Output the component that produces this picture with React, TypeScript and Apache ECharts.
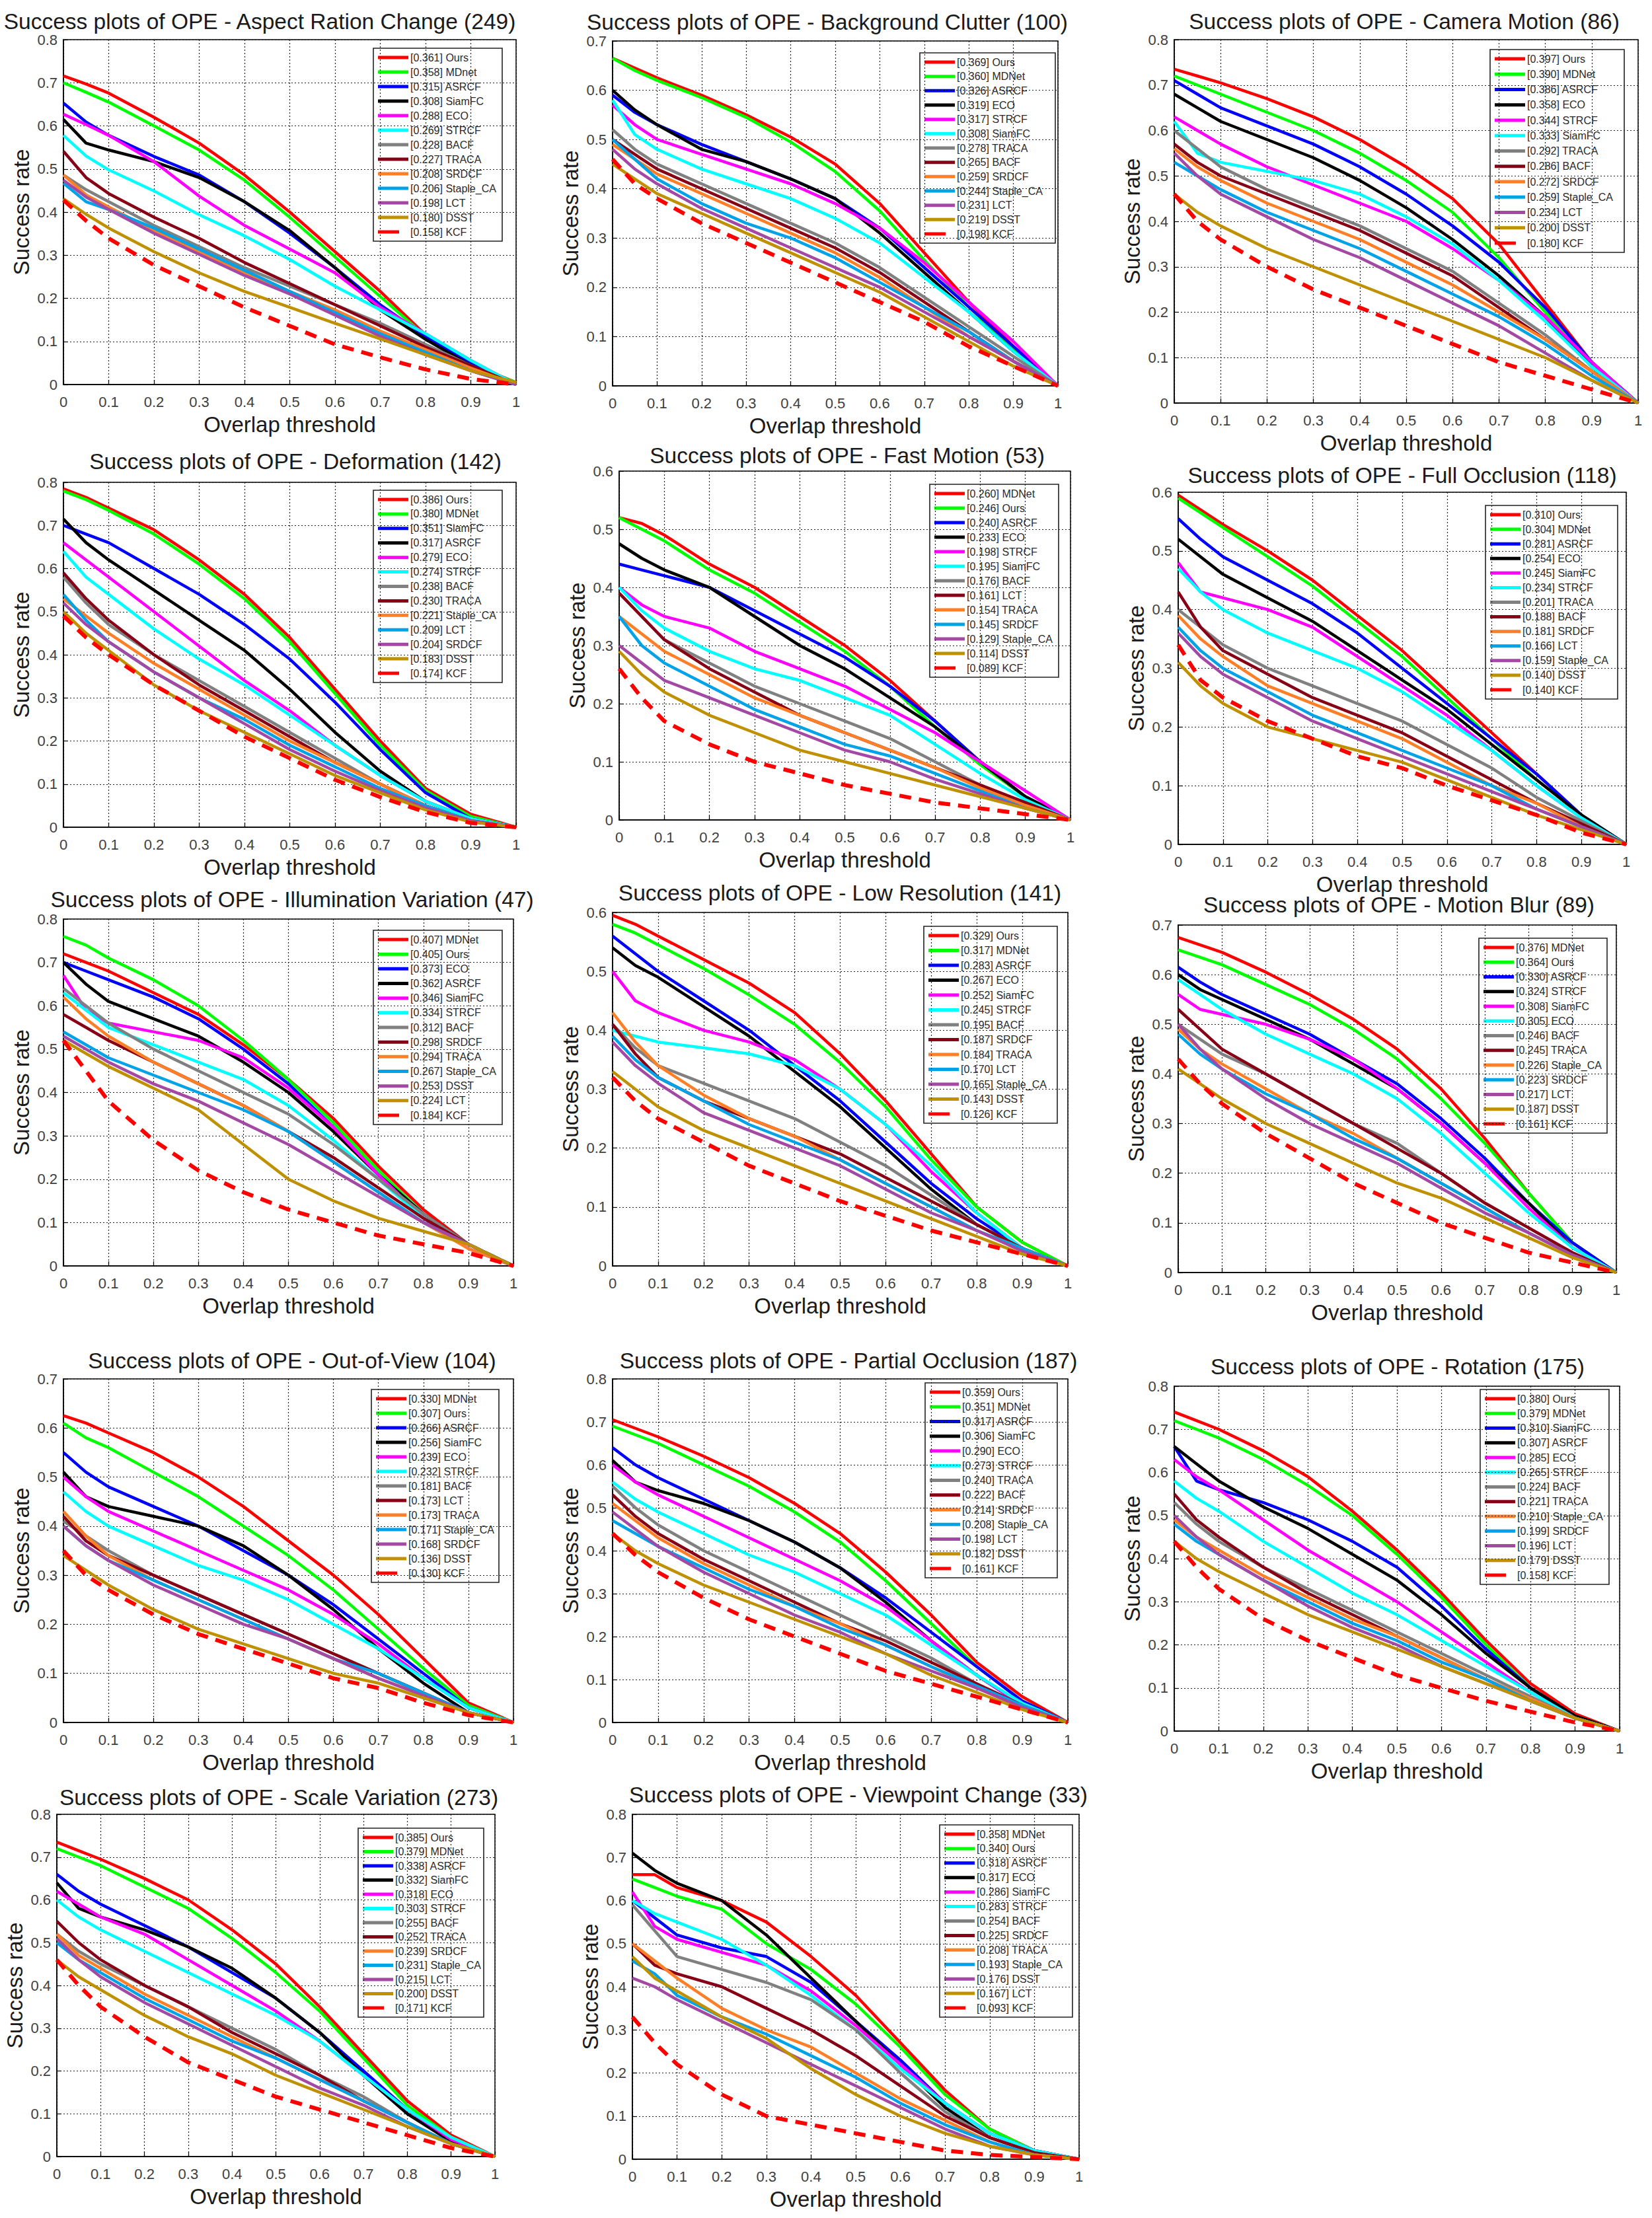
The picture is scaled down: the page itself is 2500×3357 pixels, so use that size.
import React, { useEffect, useRef } from "react";
import * as echarts from "echarts";

const THRESHOLDS = [0, 0.05, 0.1, 0.2, 0.3, 0.4, 0.5, 0.6, 0.7, 0.8, 0.9, 1];
const RANK_COLORS = ["#ff0000", "#00ff00", "#0000ff", "#000000", "#ff00ff", "#00ffff", "#808080", "#880015", "#ff7f27", "#00a2e8", "#a349a4", "#bf9000", "#ff0000"];
const FONT = '"Liberation Sans", Arial, Helvetica, sans-serif';

// ---------- 1. Aspect Ration Change ----------
const ARC_TITLE = "Success plots of OPE - Aspect Ration Change (249)";
const ARC_NAMES = ["Ours", "MDnet", "ASRCF", "SiamFC", "ECO", "STRCF", "BACF", "TRACA", "SRDCF", "Staple_CA", "LCT", "DSST", "KCF"];
const ARC_SCORES = [0.361, 0.358, 0.315, 0.308, 0.288, 0.269, 0.228, 0.227, 0.208, 0.206, 0.198, 0.18, 0.158];
const ARC_CURVES = [
  [0.716, 0.697, 0.676, 0.62, 0.56, 0.486, 0.4, 0.308, 0.216, 0.115, 0.047, 0.005],
  [0.7, 0.678, 0.655, 0.6, 0.544, 0.474, 0.388, 0.296, 0.204, 0.112, 0.044, 0.005],
  [0.653, 0.609, 0.578, 0.529, 0.486, 0.424, 0.351, 0.271, 0.185, 0.112, 0.05, 0],
  [0.615, 0.56, 0.544, 0.517, 0.48, 0.424, 0.357, 0.271, 0.173, 0.105, 0.044, 0],
  [0.627, 0.603, 0.578, 0.517, 0.437, 0.369, 0.314, 0.259, 0.179, 0.118, 0.056, 0],
  [0.578, 0.53, 0.498, 0.449, 0.394, 0.345, 0.29, 0.228, 0.173, 0.118, 0.056, 0],
  [0.486, 0.452, 0.424, 0.369, 0.32, 0.271, 0.228, 0.185, 0.142, 0.093, 0.044, 0],
  [0.541, 0.48, 0.443, 0.388, 0.339, 0.283, 0.234, 0.185, 0.136, 0.087, 0.044, 0],
  [0.486, 0.44, 0.412, 0.357, 0.308, 0.259, 0.216, 0.173, 0.124, 0.081, 0.038, 0],
  [0.467, 0.424, 0.406, 0.363, 0.314, 0.265, 0.216, 0.167, 0.118, 0.075, 0.032, 0],
  [0.474, 0.435, 0.406, 0.351, 0.302, 0.253, 0.21, 0.161, 0.112, 0.069, 0.032, 0],
  [0.431, 0.395, 0.363, 0.308, 0.259, 0.216, 0.179, 0.142, 0.106, 0.069, 0.032, 0.005],
  [0.428, 0.38, 0.339, 0.277, 0.228, 0.179, 0.136, 0.093, 0.063, 0.035, 0.013, 0],
];

// ---------- 2. Background Clutter ----------
const BC_TITLE = "Success plots of OPE - Background Clutter (100)";
const BC_NAMES = ["Ours", "MDNet", "ASRCF", "ECO", "STRCF", "SiamFC", "TRACA", "BACF", "SRDCF", "Staple_CA", "LCT", "DSST", "KCF"];
const BC_SCORES = [0.369, 0.36, 0.326, 0.319, 0.317, 0.308, 0.278, 0.265, 0.259, 0.244, 0.231, 0.219, 0.198];
const BC_CURVES = [
  [0.665, 0.645, 0.625, 0.59, 0.55, 0.505, 0.45, 0.37, 0.27, 0.17, 0.08, 0],
  [0.665, 0.64, 0.62, 0.585, 0.545, 0.495, 0.435, 0.355, 0.255, 0.16, 0.075, 0],
  [0.59, 0.555, 0.53, 0.49, 0.455, 0.42, 0.38, 0.32, 0.24, 0.16, 0.08, 0],
  [0.6, 0.56, 0.53, 0.48, 0.455, 0.42, 0.38, 0.31, 0.23, 0.15, 0.07, 0],
  [0.57, 0.53, 0.5, 0.47, 0.44, 0.41, 0.37, 0.32, 0.25, 0.17, 0.09, 0],
  [0.58, 0.51, 0.48, 0.44, 0.41, 0.38, 0.34, 0.29, 0.22, 0.15, 0.07, 0],
  [0.52, 0.48, 0.45, 0.41, 0.37, 0.33, 0.29, 0.24, 0.18, 0.12, 0.06, 0],
  [0.5, 0.47, 0.44, 0.4, 0.36, 0.32, 0.28, 0.23, 0.17, 0.11, 0.05, 0],
  [0.49, 0.46, 0.43, 0.39, 0.35, 0.31, 0.27, 0.22, 0.16, 0.1, 0.05, 0],
  [0.5, 0.46, 0.42, 0.37, 0.33, 0.3, 0.26, 0.21, 0.16, 0.11, 0.05, 0],
  [0.48, 0.44, 0.41, 0.36, 0.32, 0.28, 0.24, 0.2, 0.15, 0.1, 0.05, 0],
  [0.45, 0.42, 0.39, 0.35, 0.31, 0.27, 0.23, 0.19, 0.14, 0.09, 0.04, 0],
  [0.46, 0.41, 0.38, 0.33, 0.29, 0.25, 0.21, 0.17, 0.13, 0.08, 0.04, 0],
];

// ---------- 3. Camera Motion ----------
const CM_TITLE = "Success plots of OPE - Camera Motion (86)";
const CM_NAMES = ["Ours", "MDNet", "ASRCF", "ECO", "STRCF", "SiamFC", "TRACA", "BACF", "SRDCF", "Staple_CA", "LCT", "DSST", "KCF"];
const CM_SCORES = [0.397, 0.39, 0.386, 0.358, 0.344, 0.333, 0.292, 0.286, 0.272, 0.259, 0.234, 0.2, 0.18];
const CM_CURVES = [
  [0.735, 0.72, 0.705, 0.67, 0.63, 0.58, 0.52, 0.45, 0.35, 0.22, 0.09, 0],
  [0.72, 0.7, 0.68, 0.64, 0.6, 0.55, 0.49, 0.42, 0.32, 0.2, 0.08, 0],
  [0.71, 0.68, 0.65, 0.61, 0.57, 0.52, 0.46, 0.39, 0.31, 0.21, 0.09, 0],
  [0.68, 0.65, 0.62, 0.58, 0.54, 0.49, 0.43, 0.36, 0.28, 0.19, 0.08, 0],
  [0.63, 0.6, 0.57, 0.52, 0.48, 0.44, 0.4, 0.34, 0.27, 0.19, 0.09, 0],
  [0.62, 0.55, 0.53, 0.51, 0.49, 0.46, 0.41, 0.35, 0.27, 0.18, 0.08, 0],
  [0.6, 0.56, 0.52, 0.47, 0.43, 0.39, 0.34, 0.29, 0.22, 0.15, 0.07, 0],
  [0.57, 0.53, 0.5, 0.46, 0.42, 0.38, 0.33, 0.28, 0.21, 0.14, 0.07, 0],
  [0.56, 0.52, 0.49, 0.44, 0.4, 0.36, 0.31, 0.26, 0.2, 0.14, 0.07, 0],
  [0.53, 0.5, 0.47, 0.42, 0.38, 0.34, 0.29, 0.24, 0.19, 0.13, 0.06, 0],
  [0.55, 0.5, 0.46, 0.41, 0.36, 0.32, 0.27, 0.22, 0.17, 0.11, 0.05, 0],
  [0.46, 0.42, 0.39, 0.34, 0.3, 0.26, 0.22, 0.18, 0.14, 0.1, 0.05, 0],
  [0.46, 0.4, 0.36, 0.3, 0.25, 0.21, 0.17, 0.13, 0.09, 0.06, 0.03, 0],
];

// ---------- 4. Deformation ----------
const DEF_TITLE = "Success plots of OPE - Deformation (142)";
const DEF_NAMES = ["Ours", "MDNet", "SiamFC", "ASRCF", "ECO", "STRCF", "BACF", "TRACA", "Staple_CA", "LCT", "SRDCF", "DSST", "KCF"];
const DEF_SCORES = [0.386, 0.38, 0.351, 0.317, 0.279, 0.274, 0.238, 0.23, 0.221, 0.209, 0.204, 0.183, 0.174];
const DEF_CURVES = [
  [0.785, 0.765, 0.74, 0.69, 0.62, 0.54, 0.44, 0.32, 0.2, 0.09, 0.03, 0],
  [0.78, 0.76, 0.735, 0.68, 0.61, 0.53, 0.43, 0.31, 0.19, 0.085, 0.025, 0],
  [0.7, 0.68, 0.66, 0.6, 0.54, 0.47, 0.39, 0.29, 0.18, 0.08, 0.02, 0],
  [0.715, 0.66, 0.62, 0.55, 0.48, 0.41, 0.32, 0.22, 0.13, 0.06, 0.02, 0],
  [0.66, 0.62, 0.58, 0.5, 0.42, 0.34, 0.27, 0.19, 0.12, 0.06, 0.02, 0],
  [0.64, 0.58, 0.54, 0.46, 0.39, 0.33, 0.26, 0.19, 0.12, 0.06, 0.02, 0],
  [0.58, 0.52, 0.47, 0.4, 0.34, 0.28, 0.22, 0.16, 0.1, 0.05, 0.015, 0],
  [0.59, 0.53, 0.48, 0.4, 0.33, 0.27, 0.21, 0.15, 0.1, 0.05, 0.015, 0],
  [0.53, 0.49, 0.45, 0.38, 0.32, 0.26, 0.2, 0.15, 0.1, 0.05, 0.015, 0],
  [0.54, 0.48, 0.43, 0.36, 0.3, 0.25, 0.19, 0.14, 0.09, 0.05, 0.015, 0],
  [0.52, 0.47, 0.43, 0.36, 0.3, 0.24, 0.18, 0.13, 0.085, 0.045, 0.015, 0],
  [0.5, 0.45, 0.41, 0.33, 0.27, 0.22, 0.17, 0.12, 0.08, 0.04, 0.012, 0],
  [0.49, 0.44, 0.4, 0.33, 0.27, 0.21, 0.16, 0.11, 0.07, 0.035, 0.01, 0],
];

// ---------- 5. Fast Motion ----------
const FM_TITLE = "Success plots of OPE - Fast Motion (53)";
const FM_NAMES = ["MDNet", "Ours", "ASRCF", "ECO", "STRCF", "SiamFC", "BACF", "LCT", "TRACA", "SRDCF", "Staple_CA", "DSST", "KCF"];
const FM_SCORES = [0.26, 0.246, 0.24, 0.233, 0.198, 0.195, 0.176, 0.161, 0.154, 0.145, 0.129, 0.114, 0.089];
const FM_CURVES = [
  [0.52, 0.51, 0.49, 0.44, 0.4, 0.35, 0.3, 0.24, 0.17, 0.1, 0.04, 0],
  [0.52, 0.5, 0.48, 0.43, 0.39, 0.34, 0.29, 0.23, 0.16, 0.095, 0.04, 0],
  [0.44, 0.43, 0.42, 0.4, 0.36, 0.32, 0.28, 0.23, 0.17, 0.1, 0.04, 0],
  [0.475, 0.45, 0.43, 0.4, 0.35, 0.3, 0.26, 0.21, 0.16, 0.1, 0.04, 0],
  [0.4, 0.37, 0.35, 0.33, 0.29, 0.26, 0.23, 0.19, 0.15, 0.1, 0.05, 0],
  [0.4, 0.36, 0.33, 0.29, 0.26, 0.24, 0.21, 0.18, 0.13, 0.08, 0.035, 0],
  [0.39, 0.35, 0.31, 0.27, 0.23, 0.2, 0.17, 0.14, 0.1, 0.06, 0.03, 0],
  [0.39, 0.35, 0.31, 0.26, 0.22, 0.18, 0.15, 0.12, 0.09, 0.06, 0.03, 0],
  [0.35, 0.32, 0.29, 0.25, 0.21, 0.18, 0.15, 0.12, 0.09, 0.055, 0.025, 0],
  [0.35, 0.3, 0.27, 0.23, 0.19, 0.16, 0.13, 0.11, 0.08, 0.05, 0.02, 0],
  [0.3, 0.27, 0.24, 0.21, 0.18, 0.15, 0.12, 0.1, 0.07, 0.045, 0.02, 0],
  [0.29, 0.25, 0.22, 0.18, 0.15, 0.12, 0.1, 0.08, 0.06, 0.04, 0.02, 0],
  [0.26, 0.21, 0.17, 0.13, 0.1, 0.08, 0.06, 0.045, 0.03, 0.02, 0.01, 0],
];

// ---------- 6. Full Occlusion ----------
const FOC_TITLE = "Success plots of OPE - Full Occlusion (118)";
const FOC_NAMES = ["Ours", "MDNet", "ASRCF", "ECO", "SiamFC", "STRCF", "TRACA", "BACF", "SRDCF", "LCT", "Staple_CA", "DSST", "KCF"];
const FOC_SCORES = [0.31, 0.304, 0.281, 0.254, 0.245, 0.234, 0.201, 0.188, 0.181, 0.166, 0.159, 0.14, 0.14];
const FOC_CURVES = [
  [0.595, 0.57, 0.545, 0.5, 0.45, 0.39, 0.33, 0.26, 0.19, 0.12, 0.05, 0],
  [0.59, 0.565, 0.54, 0.49, 0.44, 0.38, 0.32, 0.25, 0.18, 0.11, 0.05, 0],
  [0.555, 0.52, 0.49, 0.45, 0.41, 0.36, 0.3, 0.24, 0.18, 0.12, 0.05, 0],
  [0.52, 0.49, 0.46, 0.42, 0.38, 0.33, 0.28, 0.23, 0.17, 0.11, 0.05, 0],
  [0.48, 0.43, 0.42, 0.4, 0.37, 0.32, 0.27, 0.22, 0.16, 0.1, 0.045, 0],
  [0.47, 0.43, 0.4, 0.36, 0.33, 0.3, 0.26, 0.21, 0.16, 0.1, 0.045, 0],
  [0.4, 0.37, 0.34, 0.3, 0.27, 0.24, 0.21, 0.17, 0.13, 0.08, 0.04, 0],
  [0.43, 0.37, 0.33, 0.29, 0.25, 0.22, 0.19, 0.15, 0.11, 0.07, 0.035, 0],
  [0.39, 0.35, 0.32, 0.27, 0.24, 0.21, 0.18, 0.14, 0.1, 0.07, 0.03, 0],
  [0.37, 0.33, 0.3, 0.26, 0.22, 0.19, 0.16, 0.13, 0.1, 0.06, 0.03, 0],
  [0.36, 0.32, 0.29, 0.25, 0.21, 0.18, 0.15, 0.12, 0.09, 0.06, 0.03, 0],
  [0.31, 0.27, 0.24, 0.2, 0.18, 0.16, 0.14, 0.11, 0.08, 0.05, 0.025, 0],
  [0.34, 0.28, 0.25, 0.21, 0.18, 0.15, 0.13, 0.1, 0.075, 0.05, 0.02, 0],
];

// ---------- 7. Illumination Variation ----------
const IV_TITLE = "Success plots of OPE - Illumination Variation (47)";
const IV_NAMES = ["MDNet", "Ours", "ECO", "ASRCF", "SiamFC", "STRCF", "BACF", "SRDCF", "TRACA", "Staple_CA", "DSST", "LCT", "KCF"];
const IV_SCORES = [0.407, 0.405, 0.373, 0.362, 0.346, 0.334, 0.312, 0.298, 0.294, 0.267, 0.253, 0.224, 0.184];
const IV_CURVES = [
  [0.72, 0.7, 0.68, 0.63, 0.58, 0.51, 0.43, 0.34, 0.23, 0.13, 0.05, 0],
  [0.76, 0.74, 0.71, 0.66, 0.6, 0.52, 0.43, 0.33, 0.22, 0.12, 0.05, 0],
  [0.7, 0.68, 0.66, 0.62, 0.57, 0.5, 0.42, 0.32, 0.21, 0.12, 0.05, 0],
  [0.7, 0.65, 0.61, 0.57, 0.53, 0.47, 0.4, 0.31, 0.21, 0.12, 0.05, 0],
  [0.67, 0.59, 0.56, 0.54, 0.52, 0.48, 0.41, 0.32, 0.21, 0.11, 0.04, 0],
  [0.63, 0.59, 0.55, 0.51, 0.47, 0.43, 0.37, 0.29, 0.2, 0.11, 0.05, 0],
  [0.64, 0.6, 0.56, 0.5, 0.45, 0.4, 0.35, 0.28, 0.2, 0.12, 0.05, 0],
  [0.58, 0.55, 0.52, 0.47, 0.42, 0.37, 0.31, 0.25, 0.18, 0.11, 0.05, 0],
  [0.62, 0.57, 0.53, 0.47, 0.42, 0.37, 0.31, 0.24, 0.17, 0.1, 0.04, 0],
  [0.54, 0.51, 0.48, 0.44, 0.4, 0.36, 0.31, 0.24, 0.17, 0.1, 0.05, 0],
  [0.53, 0.5, 0.47, 0.42, 0.38, 0.33, 0.28, 0.22, 0.16, 0.1, 0.05, 0],
  [0.52, 0.49, 0.46, 0.41, 0.36, 0.28, 0.2, 0.15, 0.11, 0.08, 0.05, 0],
  [0.52, 0.45, 0.38, 0.29, 0.22, 0.17, 0.13, 0.1, 0.07, 0.05, 0.03, 0],
];

// ---------- 8. Low Resolution ----------
const LR_TITLE = "Success plots of OPE - Low Resolution (141)";
const LR_NAMES = ["Ours", "MDNet", "ASRCF", "ECO", "SiamFC", "STRCF", "BACF", "SRDCF", "TRACA", "LCT", "Staple_CA", "DSST", "KCF"];
const LR_SCORES = [0.329, 0.317, 0.283, 0.267, 0.252, 0.245, 0.195, 0.187, 0.184, 0.17, 0.165, 0.143, 0.126];
const LR_CURVES = [
  [0.595, 0.58, 0.56, 0.52, 0.48, 0.43, 0.36, 0.28, 0.19, 0.1, 0.04, 0],
  [0.58, 0.565, 0.545, 0.505, 0.46, 0.41, 0.345, 0.27, 0.18, 0.1, 0.04, 0],
  [0.56, 0.53, 0.5, 0.45, 0.4, 0.34, 0.28, 0.21, 0.14, 0.08, 0.03, 0],
  [0.54, 0.51, 0.49, 0.44, 0.39, 0.33, 0.27, 0.2, 0.13, 0.07, 0.03, 0],
  [0.5, 0.45, 0.43, 0.4, 0.38, 0.35, 0.3, 0.24, 0.16, 0.09, 0.03, 0],
  [0.4, 0.39, 0.38, 0.37, 0.36, 0.34, 0.3, 0.24, 0.17, 0.09, 0.03, 0],
  [0.41, 0.37, 0.34, 0.31, 0.28, 0.25, 0.21, 0.17, 0.12, 0.07, 0.03, 0],
  [0.41, 0.36, 0.32, 0.28, 0.25, 0.22, 0.19, 0.15, 0.11, 0.07, 0.03, 0],
  [0.43, 0.38, 0.34, 0.29, 0.25, 0.22, 0.18, 0.14, 0.1, 0.06, 0.03, 0],
  [0.39, 0.35, 0.32, 0.28, 0.24, 0.21, 0.18, 0.14, 0.1, 0.06, 0.03, 0],
  [0.38, 0.34, 0.31, 0.26, 0.23, 0.2, 0.17, 0.13, 0.09, 0.06, 0.025, 0],
  [0.33, 0.3, 0.27, 0.23, 0.2, 0.17, 0.14, 0.11, 0.08, 0.05, 0.02, 0],
  [0.32, 0.28, 0.25, 0.21, 0.17, 0.14, 0.11, 0.085, 0.06, 0.04, 0.02, 0],
];

// ---------- 9. Motion Blur ----------
const MB_TITLE = "Success plots of OPE - Motion Blur (89)";
const MB_NAMES = ["MDNet", "Ours", "ASRCF", "STRCF", "SiamFC", "ECO", "BACF", "TRACA", "Staple_CA", "SRDCF", "LCT", "DSST", "KCF"];
const MB_SCORES = [0.376, 0.364, 0.33, 0.324, 0.308, 0.305, 0.246, 0.245, 0.226, 0.223, 0.217, 0.187, 0.161];
const MB_CURVES = [
  [0.675, 0.66, 0.645, 0.605, 0.56, 0.51, 0.45, 0.37, 0.27, 0.16, 0.06, 0],
  [0.65, 0.635, 0.62, 0.58, 0.54, 0.49, 0.43, 0.35, 0.26, 0.16, 0.06, 0],
  [0.615, 0.585, 0.56, 0.52, 0.48, 0.43, 0.38, 0.31, 0.23, 0.14, 0.06, 0],
  [0.6, 0.57, 0.55, 0.51, 0.47, 0.42, 0.37, 0.3, 0.22, 0.14, 0.05, 0],
  [0.56, 0.53, 0.52, 0.5, 0.47, 0.43, 0.37, 0.3, 0.22, 0.13, 0.05, 0],
  [0.59, 0.56, 0.53, 0.48, 0.44, 0.4, 0.35, 0.28, 0.2, 0.12, 0.05, 0],
  [0.5, 0.47, 0.44, 0.4, 0.35, 0.3, 0.26, 0.2, 0.14, 0.09, 0.04, 0],
  [0.53, 0.49, 0.45, 0.4, 0.35, 0.3, 0.25, 0.2, 0.14, 0.09, 0.04, 0],
  [0.49, 0.45, 0.42, 0.37, 0.32, 0.28, 0.23, 0.18, 0.13, 0.08, 0.035, 0],
  [0.48, 0.44, 0.41, 0.36, 0.32, 0.27, 0.23, 0.18, 0.13, 0.08, 0.035, 0],
  [0.5, 0.45, 0.41, 0.35, 0.3, 0.26, 0.22, 0.17, 0.12, 0.08, 0.035, 0],
  [0.41, 0.38, 0.35, 0.3, 0.26, 0.22, 0.18, 0.15, 0.11, 0.07, 0.03, 0],
  [0.43, 0.38, 0.34, 0.28, 0.23, 0.18, 0.14, 0.1, 0.07, 0.04, 0.02, 0],
];

// ---------- 10. Out-of-View ----------
const OV_TITLE = "Success plots of OPE - Out-of-View (104)";
const OV_NAMES = ["MDNet", "Ours", "ASRCF", "SiamFC", "ECO", "STRCF", "BACF", "LCT", "TRACA", "Staple_CA", "SRDCF", "DSST", "KCF"];
const OV_SCORES = [0.33, 0.307, 0.266, 0.256, 0.239, 0.232, 0.181, 0.173, 0.173, 0.171, 0.168, 0.136, 0.13];
const OV_CURVES = [
  [0.625, 0.61, 0.59, 0.55, 0.5, 0.44, 0.37, 0.3, 0.22, 0.13, 0.04, 0],
  [0.61, 0.58, 0.56, 0.51, 0.46, 0.4, 0.34, 0.27, 0.19, 0.11, 0.035, 0],
  [0.55, 0.51, 0.48, 0.44, 0.4, 0.35, 0.3, 0.24, 0.17, 0.1, 0.03, 0],
  [0.51, 0.46, 0.44, 0.42, 0.4, 0.36, 0.3, 0.23, 0.15, 0.08, 0.02, 0],
  [0.5, 0.46, 0.43, 0.39, 0.35, 0.31, 0.27, 0.22, 0.16, 0.09, 0.03, 0],
  [0.47, 0.43, 0.4, 0.36, 0.32, 0.29, 0.25, 0.2, 0.15, 0.09, 0.03, 0],
  [0.41, 0.38, 0.35, 0.3, 0.26, 0.22, 0.18, 0.14, 0.1, 0.06, 0.02, 0],
  [0.42, 0.37, 0.34, 0.3, 0.26, 0.22, 0.18, 0.14, 0.1, 0.06, 0.02, 0],
  [0.43, 0.38, 0.34, 0.29, 0.25, 0.21, 0.17, 0.13, 0.09, 0.055, 0.02, 0],
  [0.4, 0.36, 0.33, 0.29, 0.25, 0.21, 0.17, 0.13, 0.1, 0.06, 0.02, 0],
  [0.4, 0.36, 0.33, 0.28, 0.24, 0.2, 0.17, 0.13, 0.09, 0.055, 0.02, 0],
  [0.34, 0.31, 0.28, 0.23, 0.19, 0.16, 0.13, 0.1, 0.08, 0.05, 0.02, 0],
  [0.35, 0.3, 0.27, 0.22, 0.18, 0.15, 0.12, 0.09, 0.07, 0.04, 0.015, 0],
];

// ---------- 11. Partial Occlusion ----------
const POC_TITLE = "Success plots of OPE - Partial Occlusion (187)";
const POC_NAMES = ["Ours", "MDNet", "ASRCF", "SiamFC", "ECO", "STRCF", "TRACA", "BACF", "SRDCF", "Staple_CA", "LCT", "DSST", "KCF"];
const POC_SCORES = [0.359, 0.351, 0.317, 0.306, 0.29, 0.273, 0.24, 0.222, 0.214, 0.208, 0.198, 0.182, 0.161];
const POC_CURVES = [
  [0.705, 0.685, 0.665, 0.62, 0.57, 0.51, 0.44, 0.35, 0.25, 0.14, 0.06, 0],
  [0.69, 0.67, 0.65, 0.6, 0.55, 0.49, 0.42, 0.33, 0.23, 0.13, 0.05, 0],
  [0.64, 0.6, 0.57, 0.52, 0.47, 0.42, 0.36, 0.29, 0.21, 0.13, 0.05, 0],
  [0.61, 0.56, 0.54, 0.51, 0.47, 0.42, 0.36, 0.28, 0.19, 0.11, 0.04, 0],
  [0.6, 0.56, 0.53, 0.48, 0.43, 0.38, 0.33, 0.27, 0.19, 0.11, 0.04, 0],
  [0.56, 0.52, 0.49, 0.44, 0.39, 0.35, 0.3, 0.25, 0.18, 0.11, 0.045, 0],
  [0.55, 0.5, 0.46, 0.4, 0.35, 0.3, 0.25, 0.2, 0.15, 0.09, 0.04, 0],
  [0.53, 0.48, 0.44, 0.38, 0.33, 0.28, 0.23, 0.19, 0.14, 0.09, 0.04, 0],
  [0.51, 0.47, 0.43, 0.37, 0.32, 0.27, 0.23, 0.18, 0.13, 0.08, 0.04, 0],
  [0.47, 0.44, 0.41, 0.36, 0.31, 0.27, 0.22, 0.18, 0.13, 0.085, 0.04, 0],
  [0.49, 0.45, 0.41, 0.35, 0.3, 0.25, 0.21, 0.16, 0.12, 0.08, 0.035, 0],
  [0.44, 0.4, 0.37, 0.32, 0.28, 0.24, 0.2, 0.16, 0.11, 0.07, 0.03, 0],
  [0.44, 0.39, 0.35, 0.29, 0.24, 0.2, 0.16, 0.12, 0.09, 0.06, 0.03, 0],
];

// ---------- 12. Rotation ----------
const ROT_TITLE = "Success plots of OPE - Rotation (175)";
const ROT_NAMES = ["Ours", "MDNet", "SiamFC", "ASRCF", "ECO", "STRCF", "BACF", "TRACA", "Staple_CA", "SRDCF", "LCT", "DSST", "KCF"];
const ROT_SCORES = [0.38, 0.379, 0.31, 0.307, 0.285, 0.265, 0.224, 0.221, 0.21, 0.199, 0.196, 0.179, 0.158];
const ROT_CURVES = [
  [0.74, 0.72, 0.7, 0.65, 0.59, 0.51, 0.42, 0.32, 0.21, 0.11, 0.04, 0],
  [0.72, 0.7, 0.68, 0.63, 0.57, 0.5, 0.41, 0.31, 0.2, 0.1, 0.035, 0],
  [0.66, 0.58, 0.56, 0.53, 0.49, 0.44, 0.38, 0.29, 0.19, 0.1, 0.035, 0],
  [0.66, 0.62, 0.58, 0.52, 0.47, 0.41, 0.35, 0.27, 0.18, 0.1, 0.035, 0],
  [0.63, 0.59, 0.56, 0.49, 0.42, 0.36, 0.3, 0.23, 0.16, 0.09, 0.03, 0],
  [0.58, 0.54, 0.51, 0.44, 0.38, 0.32, 0.27, 0.21, 0.15, 0.09, 0.03, 0],
  [0.53, 0.48, 0.44, 0.38, 0.33, 0.28, 0.23, 0.18, 0.13, 0.08, 0.03, 0],
  [0.55, 0.49, 0.45, 0.38, 0.32, 0.27, 0.22, 0.17, 0.12, 0.07, 0.03, 0],
  [0.49, 0.45, 0.42, 0.36, 0.31, 0.26, 0.22, 0.17, 0.12, 0.075, 0.03, 0],
  [0.48, 0.44, 0.41, 0.35, 0.3, 0.25, 0.21, 0.16, 0.12, 0.07, 0.03, 0],
  [0.5, 0.45, 0.41, 0.35, 0.29, 0.24, 0.2, 0.15, 0.11, 0.07, 0.03, 0],
  [0.44, 0.4, 0.37, 0.32, 0.27, 0.23, 0.19, 0.15, 0.11, 0.07, 0.03, 0],
  [0.44, 0.38, 0.33, 0.26, 0.21, 0.17, 0.13, 0.1, 0.07, 0.045, 0.02, 0],
];

// ---------- 13. Scale Variation ----------
const SV_TITLE = "Success plots of OPE - Scale Variation (273)";
const SV_NAMES = ["Ours", "MDNet", "ASRCF", "SiamFC", "ECO", "STRCF", "BACF", "TRACA", "SRDCF", "Staple_CA", "LCT", "DSST", "KCF"];
const SV_SCORES = [0.385, 0.379, 0.338, 0.332, 0.318, 0.303, 0.255, 0.252, 0.239, 0.231, 0.215, 0.2, 0.171];
const SV_CURVES = [
  [0.735, 0.715, 0.695, 0.65, 0.6, 0.53, 0.45, 0.35, 0.24, 0.13, 0.05, 0],
  [0.72, 0.7, 0.68, 0.63, 0.58, 0.51, 0.43, 0.34, 0.23, 0.12, 0.045, 0],
  [0.66, 0.62, 0.59, 0.54, 0.49, 0.43, 0.37, 0.29, 0.2, 0.11, 0.04, 0],
  [0.64, 0.58, 0.56, 0.53, 0.49, 0.44, 0.37, 0.29, 0.19, 0.1, 0.035, 0],
  [0.62, 0.59, 0.56, 0.52, 0.46, 0.4, 0.34, 0.27, 0.19, 0.11, 0.04, 0],
  [0.6, 0.56, 0.53, 0.48, 0.43, 0.38, 0.33, 0.27, 0.19, 0.11, 0.045, 0],
  [0.52, 0.48, 0.45, 0.4, 0.35, 0.3, 0.25, 0.19, 0.14, 0.08, 0.03, 0],
  [0.55, 0.5, 0.46, 0.4, 0.35, 0.29, 0.24, 0.19, 0.13, 0.08, 0.03, 0],
  [0.52, 0.47, 0.44, 0.38, 0.33, 0.28, 0.23, 0.18, 0.13, 0.08, 0.03, 0],
  [0.5, 0.46, 0.43, 0.37, 0.32, 0.27, 0.23, 0.18, 0.13, 0.08, 0.03, 0],
  [0.51, 0.46, 0.42, 0.36, 0.31, 0.26, 0.21, 0.16, 0.12, 0.07, 0.03, 0],
  [0.46, 0.42, 0.39, 0.33, 0.28, 0.24, 0.19, 0.15, 0.11, 0.07, 0.03, 0],
  [0.46, 0.4, 0.35, 0.28, 0.22, 0.18, 0.14, 0.11, 0.08, 0.05, 0.02, 0],
];

// ---------- 14. Viewpoint Change ----------
const VC_TITLE = "Success plots of OPE - Viewpoint Change (33)";
const VC_NAMES = ["MDNet", "Ours", "ASRCF", "ECO", "SiamFC", "STRCF", "BACF", "SRDCF", "TRACA", "Staple_CA", "DSST", "LCT", "KCF"];
const VC_SCORES = [0.358, 0.34, 0.318, 0.317, 0.286, 0.283, 0.254, 0.225, 0.208, 0.193, 0.176, 0.167, 0.093];
const VC_CURVES = [
  [0.66, 0.66, 0.63, 0.6, 0.55, 0.47, 0.38, 0.27, 0.16, 0.07, 0.02, 0],
  [0.65, 0.63, 0.61, 0.58, 0.5, 0.44, 0.36, 0.26, 0.15, 0.07, 0.02, 0],
  [0.6, 0.56, 0.52, 0.49, 0.47, 0.41, 0.32, 0.23, 0.13, 0.06, 0.02, 0],
  [0.71, 0.67, 0.64, 0.6, 0.52, 0.42, 0.32, 0.22, 0.12, 0.05, 0.015, 0],
  [0.62, 0.54, 0.51, 0.48, 0.45, 0.39, 0.31, 0.22, 0.13, 0.06, 0.02, 0],
  [0.6, 0.57, 0.55, 0.51, 0.45, 0.38, 0.3, 0.21, 0.13, 0.06, 0.02, 0],
  [0.59, 0.53, 0.47, 0.44, 0.41, 0.37, 0.3, 0.2, 0.11, 0.05, 0.015, 0],
  [0.5, 0.45, 0.43, 0.4, 0.35, 0.3, 0.24, 0.17, 0.1, 0.05, 0.015, 0],
  [0.5, 0.46, 0.42, 0.35, 0.3, 0.26, 0.2, 0.14, 0.09, 0.04, 0.01, 0],
  [0.46, 0.43, 0.38, 0.33, 0.29, 0.24, 0.19, 0.13, 0.08, 0.04, 0.01, 0],
  [0.42, 0.4, 0.37, 0.32, 0.27, 0.22, 0.17, 0.12, 0.07, 0.03, 0.01, 0],
  [0.47, 0.42, 0.39, 0.33, 0.28, 0.21, 0.15, 0.1, 0.06, 0.03, 0.01, 0],
  [0.33, 0.27, 0.22, 0.15, 0.1, 0.08, 0.06, 0.04, 0.02, 0.01, 0.005, 0],
];

const Y_MAX = [0.8, 0.7, 0.8, 0.8, 0.6, 0.6, 0.8, 0.6, 0.7, 0.7, 0.8, 0.8, 0.8, 0.8];

const PANELS = [
  { title: ARC_TITLE, names: ARC_NAMES, scores: ARC_SCORES, curves: ARC_CURVES },
  { title: BC_TITLE, names: BC_NAMES, scores: BC_SCORES, curves: BC_CURVES },
  { title: CM_TITLE, names: CM_NAMES, scores: CM_SCORES, curves: CM_CURVES },
  { title: DEF_TITLE, names: DEF_NAMES, scores: DEF_SCORES, curves: DEF_CURVES },
  { title: FM_TITLE, names: FM_NAMES, scores: FM_SCORES, curves: FM_CURVES },
  { title: FOC_TITLE, names: FOC_NAMES, scores: FOC_SCORES, curves: FOC_CURVES },
  { title: IV_TITLE, names: IV_NAMES, scores: IV_SCORES, curves: IV_CURVES },
  { title: LR_TITLE, names: LR_NAMES, scores: LR_SCORES, curves: LR_CURVES },
  { title: MB_TITLE, names: MB_NAMES, scores: MB_SCORES, curves: MB_CURVES },
  { title: OV_TITLE, names: OV_NAMES, scores: OV_SCORES, curves: OV_CURVES },
  { title: POC_TITLE, names: POC_NAMES, scores: POC_SCORES, curves: POC_CURVES },
  { title: ROT_TITLE, names: ROT_NAMES, scores: ROT_SCORES, curves: ROT_CURVES },
  { title: SV_TITLE, names: SV_NAMES, scores: SV_SCORES, curves: SV_CURVES },
  { title: VC_TITLE, names: VC_NAMES, scores: VC_SCORES, curves: VC_CURVES },
];

// Layout (pixels): plot box left/right/top/bottom, title centre x/y, legend box
const LAYOUT = [
  { l: 96, r: 781, t: 60, b: 582, tx: 393, ty: 32, lx: 565, ly: 73, lw: 195, lh: 292 },
  { l: 927, r: 1601, t: 62, b: 584, tx: 1252, ty: 33, lx: 1392, ly: 80, lw: 205, lh: 288 },
  { l: 1777, r: 2479, t: 60, b: 610, tx: 2125, ty: 32, lx: 2255, ly: 75, lw: 203, lh: 307 },
  { l: 96, r: 781, t: 730, b: 1252, tx: 447, ty: 698, lx: 565, ly: 742, lw: 195, lh: 291 },
  { l: 937, r: 1620, t: 713, b: 1241, tx: 1282, ty: 689, lx: 1407, ly: 733, lw: 195, lh: 292 },
  { l: 1783, r: 2461, t: 745, b: 1278, tx: 2122, ty: 719, lx: 2248, ly: 765, lw: 200, lh: 293 },
  { l: 96, r: 777, t: 1391, b: 1916, tx: 442, ty: 1361, lx: 565, ly: 1408, lw: 195, lh: 294 },
  { l: 927, r: 1616, t: 1381, b: 1916, tx: 1271, ty: 1351, lx: 1398, ly: 1402, lw: 202, lh: 298 },
  { l: 1783, r: 2446, t: 1400, b: 1926, tx: 2117, ty: 1369, lx: 2238, ly: 1420, lw: 194, lh: 295 },
  { l: 96, r: 777, t: 2087, b: 2607, tx: 442, ty: 2059, lx: 562, ly: 2103, lw: 193, lh: 292 },
  { l: 927, r: 1616, t: 2087, b: 2607, tx: 1284, ty: 2059, lx: 1400, ly: 2093, lw: 200, lh: 295 },
  { l: 1777, r: 2451, t: 2098, b: 2620, tx: 2115, ty: 2068, lx: 2240, ly: 2103, lw: 195, lh: 295 },
  { l: 86, r: 749, t: 2746, b: 3264, tx: 422, ty: 2720, lx: 542, ly: 2767, lw: 190, lh: 286 },
  { l: 957, r: 1633, t: 2746, b: 3268, tx: 1299, ty: 2716, lx: 1422, ly: 2762, lw: 201, lh: 291 },
];

function fmtTick(v: number) {
  const r = Math.round(v * 10) / 10;
  return r === 0 ? "0" : r === 1 ? "1" : r.toFixed(1);
}

function buildOption() {
  const grid: any[] = [];
  const xAxis: any[] = [];
  const yAxis: any[] = [];
  const series: any[] = [];
  const graphic: any[] = [];

  PANELS.forEach((p, pi) => {
    const L = LAYOUT[pi];
    grid.push({
      left: L.l, top: L.t, width: L.r - L.l, height: L.b - L.t,
      show: true, borderColor: "#000", borderWidth: 1.5, backgroundColor: "#fff",
    });
    xAxis.push({
      type: "value", gridIndex: pi, min: 0, max: 1, interval: 0.1,
      name: "Overlap threshold", nameLocation: "middle", nameGap: 44,
      nameTextStyle: { fontSize: 33, color: "#1a1a1a", fontFamily: FONT },
      axisLine: { show: true, lineStyle: { color: "#000", width: 1.5 } },
      axisTick: { show: true, inside: true, length: 7, lineStyle: { color: "#000", width: 1.2 } },
      axisLabel: { fontSize: 22, color: "#404040", fontFamily: FONT, margin: 15, formatter: fmtTick },
      splitLine: { show: true, lineStyle: { color: "#222", width: 1.2, type: [2, 3] } },
    });
    yAxis.push({
      type: "value", gridIndex: pi, min: 0, max: Y_MAX[pi], interval: 0.1,
      name: "Success rate", nameLocation: "middle", nameGap: 47,
      nameTextStyle: { fontSize: 33, color: "#1a1a1a", fontFamily: FONT },
      axisLine: { show: true, lineStyle: { color: "#000", width: 1.5 } },
      axisTick: { show: true, inside: true, length: 7, lineStyle: { color: "#000", width: 1.2 } },
      axisLabel: { fontSize: 22, color: "#404040", fontFamily: FONT, margin: 9, formatter: fmtTick },
      splitLine: { show: true, lineStyle: { color: "#222", width: 1.2, type: [2, 3] } },
    });

    p.curves.forEach((vals, r) => {
      const dashed = r === 12;
      series.push({
        type: "line",
        name: `[${p.scores[r].toFixed(3)}] ${p.names[r]}`,
        xAxisIndex: pi, yAxisIndex: pi,
        data: THRESHOLDS.map((t, i) => [t, vals[i]]),
        showSymbol: false, symbol: "none",
        smooth: false,
        silent: true,
        lineStyle: {
          color: RANK_COLORS[r], width: dashed ? 6 : 4.5,
          type: dashed ? [18, 12] : "solid", cap: "butt", join: "round",
        },
      });
    });

    // title
    graphic.push({
      type: "text", x: L.tx, y: L.ty, z: 100,
      style: { text: p.title, fontSize: 33.5, fontFamily: FONT, fill: "#1a1a1a", align: "center", verticalAlign: "middle" },
    });

    // legend box
    const rowStep = (L.lh - 28) / 12;
    const children: any[] = [
      { type: "rect", shape: { x: 0, y: 0, width: L.lw, height: L.lh }, style: { fill: "#fff", stroke: "#222", lineWidth: 1.6 } },
    ];
    p.names.forEach((n, r) => {
      const y = 14 + r * rowStep;
      const dashed = r === 12;
      children.push({
        type: "line",
        shape: { x1: 7, y1: y, x2: dashed ? 39 : 53, y2: y },
        style: { stroke: RANK_COLORS[r], lineWidth: 5 },
      });
      children.push({
        type: "text", x: 56, y,
        style: { text: `[${p.scores[r].toFixed(3)}] ${n}`, fontSize: 16, fontFamily: FONT, fill: "#2a2a2a", align: "left", verticalAlign: "middle" },
      });
    });
    graphic.push({ type: "group", x: L.lx, y: L.ly, z: 100, children });
  });

  return {
    animation: false,
    backgroundColor: "#fff",
    grid, xAxis, yAxis, series, graphic,
  };
}

export default function App() {
  const ref = useRef<HTMLDivElement>(null);
  useEffect(() => {
    document.body.style.margin = "0";
    const chart = echarts.init(ref.current!, undefined, { renderer: "svg", width: 2500, height: 3357 });
    chart.setOption(buildOption() as any);
    return () => chart.dispose();
  }, []);
  return <div ref={ref} style={{ position: "absolute", left: 0, top: 0, width: 2500, height: 3357, background: "#fff" }} />;
}
